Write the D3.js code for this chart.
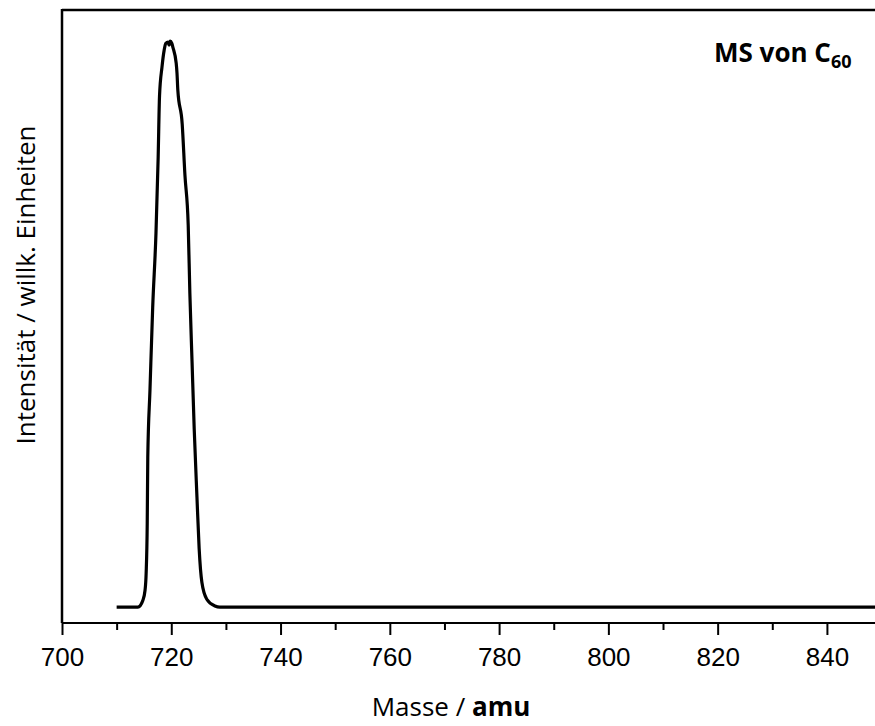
<!DOCTYPE html>
<html>
<head>
<meta charset="utf-8">
<script src="https://cdn.jsdelivr.net/npm/d3@7"></script>
<style>
  html, body { margin: 0; padding: 0; background: #fff; }
  svg { display: block; }
</style>
</head>
<body>
<svg id="chart" width="875" height="726"></svg>
<script>
// ---- data ----
const masses = [710, 713.9, 714.8, 715.2, 715.4, 715.6, 715.7, 716.1, 716.6, 717.2, 717.6,
  717.85, 718.3, 718.7, 719.0, 719.4, 719.6, 719.8, 720.1, 720.3, 720.9, 721.05, 721.2,
  722.0, 722.5, 723.1, 723.4, 723.8, 724.2, 724.7, 725.1, 725.6, 726.5, 728.0, 728.9,
  740, 780, 820, 850];
const intensities = [0, 0, 1.2, 3.0, 6.0, 14.9, 26.5, 38.4, 53.1, 66.2, 79.6,
  90.5, 95.6, 98.6, 99.8, 100, 99.5, 100.2, 99.8, 99.1, 96.3, 94.5, 91.5,
  85.5, 76.5, 67.6, 55.6, 43.5, 31.5, 19.5, 10.4, 4.4, 1.4, 0.2, 0,
  0, 0, 0, 0];
const majorTicks = [700, 720, 740, 760, 780, 800, 820, 840];
const minorTicks = [710, 730, 750, 770, 790, 810, 830];
const xDomain = [700, 848.8];
const yDomain = [-2.8, 105.7];
const xTitle = "Masse / ";
const xTitleBold = "amu";
const yTitle = "Intensität / willk. Einheiten";
const chartTitle = "MS von C";
const chartTitleSub = "60";

// ---- layout ----
const svg = d3.select("#chart");
const mLeft = 62, mRight = 875, mTop = 10, mBottom = 623;

const x = d3.scaleLinear().domain(xDomain).range([mLeft, mRight]);
const y = d3.scaleLinear().domain(yDomain).range([mBottom, mTop]);

svg.append("defs").append("clipPath").attr("id", "plotclip")
  .append("rect").attr("x", mLeft).attr("y", mTop).attr("width", mRight - mLeft).attr("height", mBottom - mTop);

// data line
const data = masses.map((m, i) => ({ m, v: intensities[i] }));
const line = d3.line().x(d => x(d.m)).y(d => y(d.v)).curve(d3.curveMonotoneX);
svg.append("path")
  .datum(data)
  .attr("clip-path", "url(#plotclip)")
  .attr("fill", "none")
  .attr("stroke", "#000")
  .attr("stroke-width", 3.2)
  .attr("stroke-linejoin", "round")
  .attr("d", line);

// frame: left and top
svg.append("line").attr("x1", mLeft).attr("x2", mLeft).attr("y1", mTop - 1).attr("y2", mBottom)
  .attr("stroke", "#000").attr("stroke-width", 2.5);
svg.append("line").attr("x1", mLeft).attr("x2", mRight).attr("y1", mTop).attr("y2", mTop)
  .attr("stroke", "#000").attr("stroke-width", 2.5);

// bottom axis: major
const axMajor = svg.append("g").attr("transform", `translate(0,${mBottom})`)
  .call(d3.axisBottom(x).tickValues(majorTicks).tickSize(12).tickSizeOuter(0).tickPadding(13).tickFormat(d3.format("d")));
axMajor.select(".domain").attr("stroke-width", 2).attr("d", `M${mLeft},0H${mRight}`);
axMajor.selectAll(".tick line").attr("stroke-width", 2);
axMajor.selectAll(".tick text")
  .attr("font-family", "'Liberation Sans', Arial, sans-serif")
  .attr("font-size", 26)
  .attr("fill", "#000");

// bottom axis: minor
const axMinor = svg.append("g").attr("transform", `translate(0,${mBottom})`)
  .call(d3.axisBottom(x).tickValues(minorTicks).tickSize(7).tickSizeOuter(0).tickFormat(""));
axMinor.select(".domain").remove();
axMinor.selectAll(".tick line").attr("stroke-width", 2);

// x title
const xt = svg.append("text")
  .attr("x", 451)
  .attr("y", 716)
  .attr("text-anchor", "middle")
  .attr("font-family", "'Open Sans', sans-serif")
  .attr("font-size", 26)
  .attr("fill", "#000");
xt.append("tspan").text(xTitle);
xt.append("tspan").attr("font-weight", "bold").text(xTitleBold);

// y title
svg.append("text")
  .attr("transform", `translate(35,285) rotate(-90)`)
  .attr("text-anchor", "middle")
  .attr("font-family", "'Open Sans', sans-serif")
  .attr("font-size", 26)
  .attr("fill", "#000")
  .text(yTitle);

// chart title
const ct = svg.append("text")
  .attr("x", 714)
  .attr("y", 62)
  .attr("font-family", "'Open Sans', sans-serif")
  .attr("font-weight", "bold")
  .attr("font-size", 26)
  .attr("fill", "#000");
ct.append("tspan").text(chartTitle);
ct.append("tspan").attr("font-size", 18).attr("dy", 6).text(chartTitleSub);
</script>
</body>
</html>
